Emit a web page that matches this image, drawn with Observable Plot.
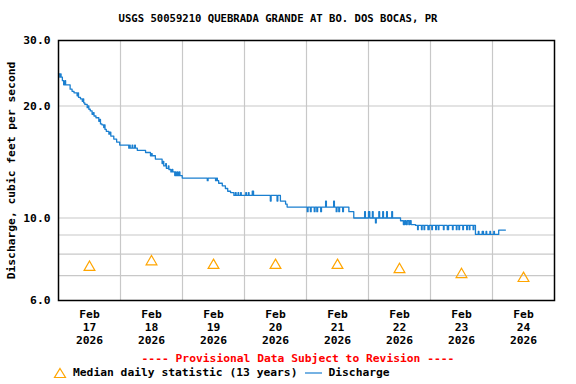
<!DOCTYPE html>
<html>
<head>
<meta charset="utf-8">
<script src="https://cdn.jsdelivr.net/npm/d3@7"></script>
<script src="https://cdn.jsdelivr.net/npm/@observablehq/plot@0.6"></script>
<style>
  html, body { margin: 0; padding: 0; background: #fff; }
  #wrap { position: relative; width: 576px; height: 384px; font-family: "DejaVu Sans Mono", monospace; font-weight: bold; }
  #wrap svg.plot { position: absolute; left: 0; top: 0; }
  .abs { position: absolute; white-space: pre; line-height: 1; }
  #title { top: 13px; left: 0; width: 556px; text-align: center; font-size: 10.6px; color: #000; }
  #prov { top: 353px; left: 0; width: 596px; text-align: center; font-size: 11.3px; color: #ff0000; }
  #legend { top: 367px; left: 53px; font-size: 11.3px; color: #000; display: flex; align-items: center; }
</style>
</head>
<body>
<div id="wrap">
  <div id="title" class="abs">USGS 50059210 QUEBRADA GRANDE AT BO. DOS BOCAS, PR</div>
  <div id="prov" class="abs">---- Provisional Data Subject to Revision ----</div>
  <div id="legend" class="abs">
    <svg width="14" height="12" style="margin-right:6px"><path d="M7,1.5 L12.5,10.5 L1.5,10.5 Z" fill="none" stroke="orange" stroke-width="1.2"/></svg><span>Median daily statistic (13 years)</span>
    <svg width="18" height="12" style="margin:0 5px 0 8px"><line x1="0" y1="6" x2="17" y2="6" stroke="#1a7fd0" stroke-width="1.2"/></svg><span>Discharge</span>
  </div>
</div>
<script>
// ---- data ----
const startDay = "2026-02-17";
const endDay = "2026-02-25";
const gridDays = ["2026-02-18","2026-02-19","2026-02-20","2026-02-21","2026-02-22","2026-02-23","2026-02-24"];
const labelDays = ["2026-02-17","2026-02-18","2026-02-19","2026-02-20","2026-02-21","2026-02-22","2026-02-23","2026-02-24"];
const medianValues = [7.37, 7.63, 7.46, 7.46, 7.46, 7.27, 7.05, 6.88];
const yTicks = [6, 10, 20, 30];
const yGrid = [7, 8, 9, 10, 20];
// [hours since Feb 17 00:00, discharge cfs]
const discharge = [
[0,24.4],[0.5,23.9],[0.75,24.4],[1,23.9],[1.5,23.4],[2,22.8],[2.5,23.4],[2.75,22.8],[4.5,22.2],[5.25,21.9],[6,21.7],[7.2,21.3],[7.5,21.7],[7.75,21.1],
[8.5,20.9],[9.2,20.6],[9.5,20.9],[9.75,20.4],[10.2,20.2],[11.1,19.8],[11.5,20.0],[11.75,19.6],[12.3,19.4],[13,19.0],[13.5,19.2],[13.75,18.8],
[14.5,18.6],[15.6,18.2],[16,18.4],[16.25,17.9],[16.8,17.8],[17.5,17.5],[17.75,17.8],[18,17.3],[18.5,17.1],[19.5,16.8],[20,17.0],[20.25,16.6],
[21.4,16.3],[22.5,16.0],[23.7,15.7],
[27.2,15.4],[27.5,15.7],[27.75,15.4],[28.5,15.7],[28.75,15.4],[29.5,15.7],[29.75,15.4],[30.5,15.2],[33.7,15.0],[35.6,14.7],[36,14.9],[36.25,14.7],
[37.5,14.4],[40.1,14.0],[40.5,14.2],[40.75,13.8],[41.5,14.0],[41.75,13.6],[42.5,13.8],[42.75,13.5],[43.5,13.3],[44,13.5],[44.25,13.3],[45,13.0],
[45.25,13.3],[45.5,13.0],[46,13.3],[46.25,13.0],[46.75,13.3],[47,13.0],[47.9,12.8],
[57.6,12.6],[57.9,12.8],[60.8,12.6],[61.2,12.8],[61.5,12.6],[62,12.4],[63.4,12.2],[64.6,12.0],[65.5,11.8],[66.6,11.7],[67.9,11.5],[68.5,11.7],
[68.75,11.5],[69.5,11.7],[69.75,11.5],[70.5,11.7],[70.75,11.5],[72.5,11.7],[72.75,11.5],[73.5,11.7],[73.75,11.5],[75,11.8],[75.5,11.5],
[82,11.1],[82.3,11.5],[84.6,11.1],[84.9,11.5],[85.9,11.1],[87.9,10.9],[88.5,10.7],[96.3,10.4],[96.6,10.7],[97.5,10.4],[97.8,10.7],[99,10.4],
[99.3,10.7],[100,10.4],[100.3,10.7],[101.5,10.4],[101.8,10.7],[103.4,11.1],[103.7,10.7],[106.5,11.1],[106.8,10.7],[107.5,10.4],[107.8,10.7],
[108.5,10.4],[108.8,10.7],[110,10.4],[110.3,10.7],[112.4,10.4],[114.3,10.0],
[118.5,10.4],[118.8,10.0],[120,10.4],[120.5,10.0],[121.5,10.4],[121.8,10.0],[122.7,9.7],[123,10.0],[124,10.4],[124.3,10.0],[125.5,10.4],
[125.8,10.0],[127,10.4],[127.3,10.0],[129,10.4],[129.3,10.0],[132.4,9.83],[133.5,9.6],[134,9.83],[134.5,9.6],[135,9.83],[135.6,9.6],[136,9.83],
[136.5,9.6],[138.2,9.55],
[139,9.3],[139.25,9.55],[140.5,9.3],[140.75,9.55],[141.5,9.3],[141.75,9.55],[143,9.3],[143.5,9.55],[144.5,9.3],[144.75,9.55],[146,9.3],
[146.25,9.55],[147,9.3],[147.25,9.55],[149,9.3],[149.25,9.55],[150.5,9.3],[151,9.55],[152.5,9.3],[152.75,9.55],[154,9.3],[154.25,9.55],
[155,9.3],[155.25,9.55],[156.5,9.3],[156.75,9.55],[158,9.3],[158.25,9.55],[159,9.3],[159.25,9.55],[160.5,9.3],[160.75,9.55],[161.4,9.03],
[162.5,9.2],[162.75,9.03],[164,9.2],[164.5,9.03],[165.5,9.2],[165.75,9.03],[167,9.2],[167.25,9.03],[168.5,9.2],[168.75,9.03],[170.4,9.28],[173,9.28]
];

// ---- build ----
const day = s => new Date(s + "T00:00:00Z");
const t0 = day(startDay);
const flow = discharge.map(([h, v]) => ({date: new Date(+t0 + h * 3600e3), value: v}));
const noon = s => new Date(+day(s) + 12 * 3600e3);
const medians = labelDays.map((d, i) => ({date: noon(d), value: medianValues[i]}));
const font = "DejaVu Sans Mono";

const chart = Plot.plot({
  width: 576,
  height: 384,
  marginTop: 40,
  marginLeft: 58,
  marginRight: 22,
  marginBottom: 84,
  style: {fontFamily: font, fontSize: "11.3px", fontWeight: "bold", color: "#000", background: "transparent"},
  x: {type: "utc", domain: [day(startDay), day(endDay)]},
  y: {type: "log", domain: [6, 30]},
  marks: [
    Plot.gridY(yGrid, {stroke: "#c8c8c8", strokeOpacity: 1, strokeWidth: 1.2}),
    Plot.gridX(gridDays.map(day), {stroke: "#c8c8c8", strokeOpacity: 1, strokeWidth: 1.2}),
    Plot.axisY(yTicks, {
      tickFormat: d => d.toFixed(1), tickSize: 0, tickPadding: 8,
      label: "Discharge, cubic feet per second", labelAnchor: "center", labelArrow: "none", labelOffset: 52
    }),
    Plot.axisX(labelDays.map(noon), {
      tickFormat: d => `Feb\n${d.getUTCDate()}\n2026`, tickSize: 0, tickPadding: 8, lineHeight: 1.15, label: null
    }),
    Plot.line(flow, {x: "date", y: "value", curve: "step-after", stroke: "#1a7fd0", strokeWidth: 1.3}),
    Plot.dot(medians, {x: "date", y: "value", symbol: "triangle", r: 4, stroke: "orange", fill: "none", strokeWidth: 1.2}),
    Plot.frame({stroke: "#000", strokeWidth: 1.5})
  ]
});
chart.classList.add("plot");
document.getElementById("wrap").prepend(chart);
</script>
</body>
</html>
